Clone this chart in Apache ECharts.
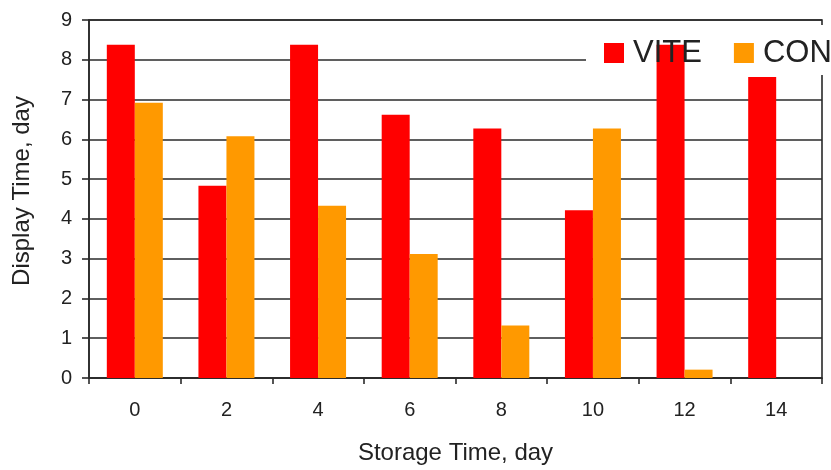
<!DOCTYPE html>
<html>
<head>
<meta charset="utf-8">
<script src="https://cdn.jsdelivr.net/npm/echarts@6/dist/echarts.min.js"></script>
<style>html,body{margin:0;padding:0;background:#fff;}#c{width:831px;height:470px;}</style>
</head>
<body>
<div id="c"></div>
<script>
var categories = ['0', '2', '4', '6', '8', '10', '12', '14'];
var viteValues = [8.38, 4.83, 8.38, 6.62, 6.27, 4.22, 8.38, 7.57];
var conValues = [6.92, 6.08, 4.33, 3.12, 1.32, 6.27, 0.21, null];
var seriesNames = ['VITE', 'CON'];
var xTitle = 'Storage Time, day';
var yTitle = 'Display Time, day';

var chart = echarts.init(document.getElementById('c'), null, {renderer: 'canvas'});
var font = 'Liberation Sans, Arial, sans-serif';
var lineCol = '#2a2a2a';
chart.setOption({
  backgroundColor: '#fff',
  animation: false,
  grid: {left: 89, right: 9, top: 20, bottom: 90.5, show: true, borderColor: lineCol, borderWidth: 1.6, backgroundColor: 'transparent'},
  graphic: [{
    type: 'rect', z: 1, left: 586, top: 25,
    shape: {width: 250, height: 50},
    style: {fill: '#fff'}
  }],
  legend: {
    data: seriesNames,
    orient: 'horizontal',
    left: 604, top: 37, width: 500, padding: 0,
    itemWidth: 20, itemHeight: 20, itemGap: 32,
    icon: 'rect',
    textStyle: {fontFamily: font, fontSize: 31, color: '#222', lineHeight: 32, padding: [0, 0, 0, 4]}
  },
  xAxis: {
    type: 'category',
    data: categories,
    name: xTitle,
    nameLocation: 'middle',
    nameGap: 63,
    nameTextStyle: {fontFamily: font, fontSize: 24, color: '#222'},
    axisLine: {lineStyle: {color: lineCol, width: 1.6}},
    axisTick: {show: true, length: 6, lineStyle: {color: lineCol, width: 1.6}},
    axisLabel: {fontFamily: font, fontSize: 20, color: '#222', margin: 22}
  },
  yAxis: {
    type: 'value',
    min: 0, max: 9, interval: 1,
    name: yTitle,
    nameLocation: 'middle',
    nameGap: 55,
    nameTextStyle: {fontFamily: font, fontSize: 24, color: '#222', padding: [0, 0, 0, 16]},
    axisLine: {show: true, lineStyle: {color: lineCol, width: 1.6}},
    axisTick: {show: true, length: 7, lineStyle: {color: lineCol, width: 1.6}},
    axisLabel: {fontFamily: font, fontSize: 20, color: '#222', margin: 17},
    splitLine: {show: true, lineStyle: {color: lineCol, width: 1.6}}
  },
  series: [
    {name: seriesNames[0], type: 'bar', data: viteValues, barWidth: 28, barGap: '0%', itemStyle: {color: '#ff0000'}, z: 2},
    {name: seriesNames[1], type: 'bar', data: conValues, barWidth: 28, barGap: '0%', itemStyle: {color: '#ff9900'}, z: 2}
  ]
});
</script>
</body>
</html>
